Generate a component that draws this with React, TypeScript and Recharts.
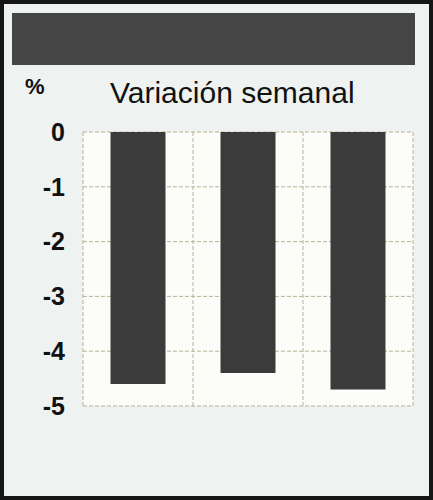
import { BarChart, Bar, XAxis, YAxis, CartesianGrid } from 'recharts'

const categories = ['A', 'B', 'C']
const values = [-4.6, -4.4, -4.7]
const yTicks = [0, -1, -2, -3, -4, -5]

const data = categories.map((name, i) => ({ name, value: values[i] }))

export default function App() {
  return (
    <div
      style={{
        position: 'absolute',
        left: 0,
        top: 0,
        width: 433,
        height: 500,
        boxSizing: 'border-box',
        border: '4px solid #161616',
        background: '#eef2f0',
        fontFamily: 'Liberation Sans, Arial, sans-serif',
        overflow: 'hidden',
      }}
    >
      <div
        style={{
          position: 'absolute',
          left: 8,
          top: 9,
          width: 403,
          height: 52,
          background: '#454545',
        }}
      />
      <div
        style={{
          position: 'absolute',
          left: 21,
          top: 72,
          fontSize: 22,
          fontWeight: 'bold',
          color: '#111',
          lineHeight: '22px',
        }}
      >
        %
      </div>
      <div
        style={{
          position: 'absolute',
          left: 106,
          top: 72,
          fontSize: 30,
          color: '#111',
          lineHeight: '34px',
          whiteSpace: 'nowrap',
        }}
      >
        Variación semanal
      </div>
      <div style={{ position: 'absolute', left: -4, top: -4 }}>
        <BarChart
          width={433}
          height={500}
          data={data}
          margin={{ top: 132, right: 20, left: 0, bottom: 94 }}
          barCategoryGap="25%"
        >
          <CartesianGrid
            fill="#fcfcf8"
            stroke="#b9b295"
            strokeDasharray="4 2"
            verticalCoordinatesGenerator={({ offset }: any) =>
              [0, 1, 2, 3].map((i) => offset.left + (offset.width * i) / categories.length)
            }
          />
          <XAxis dataKey="name" hide />
          <YAxis
            width={83}
            domain={[-5, 0]}
            ticks={yTicks}
            interval={0}
            axisLine={false}
            tickLine={false}
            tickSize={0}
            tickMargin={18}
            tick={{ fill: '#111', fontSize: 25, fontWeight: 'bold' }}
          />
          <Bar dataKey="value" fill="#3b3b3b" isAnimationActive={false} />
        </BarChart>
      </div>
    </div>
  )
}
